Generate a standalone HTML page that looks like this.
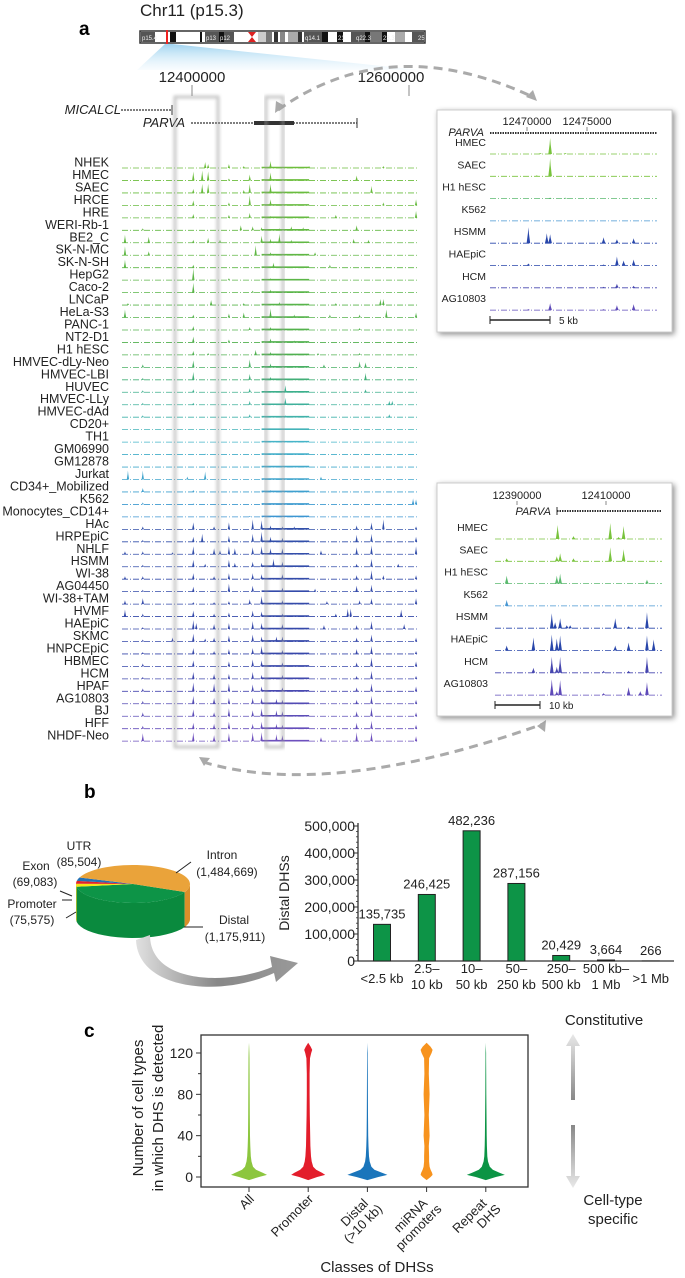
<!DOCTYPE html>
<html><head><meta charset="utf-8"><style>
html,body{margin:0;padding:0;background:#fff;}
svg{display:block;font-family:"Liberation Sans",Arial,sans-serif;}
</style></head><body>
<svg id="fig" width="685" height="1278" viewBox="0 0 685 1278" xmlns="http://www.w3.org/2000/svg">
<defs>
<filter id="sh" x="-10%" y="-10%" width="130%" height="130%"><feGaussianBlur in="SourceAlpha" stdDeviation="3"/><feOffset dx="2" dy="2"/><feComponentTransfer><feFuncA type="linear" slope="0.45"/></feComponentTransfer><feMerge><feMergeNode/><feMergeNode in="SourceGraphic"/></feMerge></filter>
<filter id="bl"><feGaussianBlur stdDeviation="1.5"/></filter>
<linearGradient id="wedge" x1="0" y1="0" x2="0" y2="1"><stop offset="0" stop-color="#9fd3f0"/><stop offset="1" stop-color="#e8f5fc" stop-opacity="0.3"/></linearGradient>
<linearGradient id="arrowg" x1="0" y1="0" x2="1" y2="0"><stop offset="0" stop-color="#e0e0e0"/><stop offset="0.5" stop-color="#888"/><stop offset="1" stop-color="#999"/></linearGradient>
<linearGradient id="vg1" x1="0" y1="0" x2="0" y2="1"><stop offset="0" stop-color="#e8e8e8"/><stop offset="1" stop-color="#888"/></linearGradient>
<linearGradient id="vg2" x1="0" y1="0" x2="0" y2="1"><stop offset="0" stop-color="#888"/><stop offset="1" stop-color="#e8e8e8"/></linearGradient>
</defs>

<text x="79" y="35" font-size="19" font-weight="bold">a</text>
<text x="140" y="16" font-size="17" fill="#222">Chr11 (p15.3)</text>
<g id="ideogram"></g>
<polygon points="165,44 172,44 420,70 137,70" fill="url(#wedge)"/>
<text x="192" y="82" font-size="15" text-anchor="middle" fill="#222">12400000</text>
<line x1="192" y1="85" x2="192" y2="96" stroke="#888"/>
<text x="391" y="82" font-size="15" text-anchor="middle" fill="#222">12600000</text>
<line x1="409" y1="85" x2="409" y2="96" stroke="#888"/>
<path d="M278,110 Q390,30 533,97" fill="none" stroke="#aaa" stroke-width="3" stroke-dasharray="9,6"/>
<polygon points="275,113 276,101 285,106" fill="#aaa"/>
<polygon points="537,101 526,97 533,90" fill="#aaa"/>
<path d="M203,762 Q330,800 543,724" fill="none" stroke="#aaa" stroke-width="3" stroke-dasharray="9,6"/>
<polygon points="199,757 210,758 204,766" fill="#aaa"/>
<polygon points="546,720 545,732 537,726" fill="#aaa"/>

<g id="genes">
<text x="121" y="114" font-size="13" font-style="italic" text-anchor="end" fill="#222">MICALCL</text>
<line x1="121" y1="110" x2="172" y2="110" stroke="#333" stroke-width="1.2" stroke-dasharray="2,1"/>
<line x1="172" y1="105" x2="172" y2="115" stroke="#333"/>
<text x="185" y="127" font-size="13" font-style="italic" text-anchor="end" fill="#222">PARVA</text>
<line x1="191" y1="123" x2="357" y2="123" stroke="#333" stroke-width="1.2" stroke-dasharray="2,1"/>
<rect x="254" y="121" width="40" height="4" fill="#333"/>
<line x1="357" y1="118" x2="357" y2="128" stroke="#333"/>
</g>

<g id="tracks"></g>
<g>
<rect x="175" y="97" width="43" height="650" fill="none" stroke="#999" stroke-width="3" opacity="0.55" filter="url(#bl)"/>
<rect x="266" y="97" width="17" height="650" fill="none" stroke="#999" stroke-width="3" opacity="0.55" filter="url(#bl)"/>
</g>

<g id="inset1">
<rect x="437" y="110" width="235" height="222" fill="#fff" stroke="#ccc" filter="url(#sh)"/>
<text x="527" y="125" font-size="11" text-anchor="middle" fill="#222">12470000</text>
<text x="587" y="125" font-size="11" text-anchor="middle" fill="#222">12475000</text>
<line x1="527" y1="127" x2="527" y2="131" stroke="#888"/>
<line x1="587" y1="127" x2="587" y2="131" stroke="#888"/>
<text x="484" y="136" font-size="11" font-style="italic" text-anchor="end" fill="#222">PARVA</text>
<line x1="490" y1="133" x2="657" y2="133" stroke="#333" stroke-width="2" stroke-dasharray="1.5,1"/>
<line x1="490" y1="320" x2="550" y2="320" stroke="#222" stroke-width="1.5"/>
<line x1="490" y1="316" x2="490" y2="324" stroke="#222"/>
<line x1="550" y1="316" x2="550" y2="324" stroke="#222"/>
<text x="559" y="324" font-size="10" fill="#222">5 kb</text>
</g>
<g id="inset2">
<rect x="437" y="483" width="235" height="233" fill="#fff" stroke="#ccc" filter="url(#sh)"/>
<text x="517" y="499" font-size="11" text-anchor="middle" fill="#222">12390000</text>
<text x="606" y="499" font-size="11" text-anchor="middle" fill="#222">12410000</text>
<line x1="517" y1="501" x2="517" y2="505" stroke="#888"/>
<line x1="606" y1="501" x2="606" y2="505" stroke="#888"/>
<text x="551" y="515" font-size="11" font-style="italic" text-anchor="end" fill="#222">PARVA</text>
<line x1="557" y1="511" x2="662" y2="511" stroke="#333" stroke-width="2" stroke-dasharray="1.5,1"/>
<line x1="557" y1="507" x2="557" y2="515" stroke="#333"/>
<line x1="495" y1="705" x2="540" y2="705" stroke="#222" stroke-width="1.5"/>
<line x1="495" y1="701" x2="495" y2="709" stroke="#222"/>
<line x1="540" y1="701" x2="540" y2="709" stroke="#222"/>
<text x="549" y="709" font-size="10" fill="#222">10 kb</text>
</g>

<text x="84" y="798" font-size="19" font-weight="bold">b</text>
<g id="pie"></g>
<path d="M150,935 C150,985 230,985 272,967 L270,956 L298,963 L276,982 L274,973 C220,998 138,990 136,940 Z" fill="url(#arrowg)"/>
<g id="bars"></g>

<text x="84" y="1037" font-size="19" font-weight="bold">c</text>
<g id="violin"></g>
<text x="604" y="1025" font-size="15" text-anchor="middle" fill="#222">Constitutive</text>
<polygon points="573,1034 566,1046 571,1046 571,1100 575,1100 575,1046 580,1046" fill="url(#vg1)"/>
<polygon points="573,1188 566,1176 571,1176 571,1125 575,1125 575,1176 580,1176" fill="url(#vg2)"/>
<text x="613" y="1205" font-size="15" text-anchor="middle" fill="#222">Cell-type</text>
<text x="613" y="1224" font-size="15" text-anchor="middle" fill="#222">specific</text>
</svg>
<script>
var NS="http://www.w3.org/2000/svg";
function mk(tag,attrs,parent){var e=document.createElementNS(NS,tag);for(var k in attrs)e.setAttribute(k,attrs[k]);parent.appendChild(e);return e;}

var trackNames=["NHEK","HMEC","SAEC","HRCE","HRE","WERI-Rb-1","BE2_C","SK-N-MC","SK-N-SH","HepG2","Caco-2","LNCaP","HeLa-S3","PANC-1","NT2-D1","H1 hESC","HMVEC-dLy-Neo","HMVEC-LBI","HUVEC","HMVEC-LLy","HMVEC-dAd","CD20+","TH1","GM06990","GM12878","Jurkat","CD34+_Mobilized","K562","Monocytes_CD14+","HAc","HRPEpiC","NHLF","HSMM","WI-38","AG04450","WI-38+TAM","HVMF","HAEpiC","SKMC","HNPCEpiC","HBMEC","HCM","HPAF","AG10803","BJ","HFF","NHDF-Neo"];
var trackPeaks=["28,6;29,4;36,4;50,7;41,2;63,2;88,2","24,9;27,10;29,9;43,6;50,8;79,5;36,2","24,4;27,9;29,9;43,9;50,9;84,7;41,3","24,5;43,10;50,6;36,3;88,3;99,6","24,4;36,3;43,5;50,2;72,3;99,7","7,2;40,5;44,4;47,3;53,2;57,4;61,3;79,5","1,8;9,6;24,3;29,5;33,3;47,7;50,4;53,9;57,3;78,4;83,3","1,9;9,4;45,10;50,3;65,3","1,8;24,3;51,5;70,3","24,12;36,2;50,2","24,10;44,2;50,3","2,2;30,5;41,2;53,3;72,2;87,6;88,6","1,8;24,3;36,4;41,5;50,9;58,3;70,3;80,3;89,8;99,5","24,4;43,3;50,3;80,2","24,6;36,3;50,4;58,2","24,4;29,2;45,5;50,3;66,2;80,2","7,3;24,7;43,8;50,4;68,3;80,6;82,5","7,2;24,8;43,6;50,3;82,7","7,2;24,3;43,4;55,7;82,3","7,2;24,2;43,4;55,7;90,4;91,4","7,2;43,3;55,2;90,3","43,1;50,1","50,1","28,1","50,1","2,9;7,9;22,3;28,8;50,1;67,3","7,4;24,2;50,2","7,2;24,1;98,6;99,5","43,1;50,1","7,3;24,7;31,3;36,7;44,10;47,9;50,4;54,3;58,3;79,4;84,7;88,10;99,3","7,2;24,5;27,8;36,6;44,8;47,10;50,5;54,4;79,7;84,8;99,5","1,3;7,3;17,2;24,8;31,6;33,4;36,8;38,6;44,7;47,8;50,6;54,6;67,4;79,7;84,9;99,8","7,2;24,7;28,3;36,7;38,4;44,5;47,4;51,8;54,5;79,3;84,8;93,3","1,3;7,3;24,6;31,3;36,6;44,6;47,5;54,5;79,4;84,9;88,4;99,4","7,2;24,5;36,8;44,6;54,4;65,3;79,6;84,7;99,3","1,4;7,6;24,2;31,2;36,3;43,5;47,8;54,4;69,3;80,4;84,6;99,6","1,7;7,3;24,6;31,3;36,4;44,6;47,5;54,3;72,3;76,8;77,8;94,7","7,2;24,9;25,6;31,5;36,6;44,8;47,6;54,5;68,4;79,4;84,8;95,5","7,2;17,4;24,8;28,3;31,4;36,6;44,7;47,5;52,5;54,5;79,4;84,7;99,4","7,2;24,6;31,3;36,5;44,6;47,8;54,4;79,5;84,8;99,3","7,3;24,6;36,5;44,7;47,6;54,4;79,4;84,9;99,5","7,2;24,7;31,5;36,5;44,7;47,4;54,4;79,3;84,8;99,3","7,3;24,9;31,8;36,8;44,7;47,5;54,4;79,4;84,8;99,5","7,3;24,8;31,6;36,6;44,6;47,6;52,5;54,4;79,4;84,8;99,4","7,4;24,7;31,4;36,8;44,6;47,8;52,6;54,5;79,5;84,9;99,4","7,3;24,6;31,5;36,7;44,5;47,7;52,5;54,4;79,6;84,8;99,4","7,8;24,9;31,6;36,8;44,9;47,9;52,7;54,6;67,4;79,9;84,9;99,5"];

var inset1Names=["HMEC","SAEC","H1 hESC","K562","HSMM","HAEpiC","HCM","AG10803"];
var inset1Peaks=["36,16;30,1;45,1","36,18;28,1","36,1;45,1","","23,16;34,10;36,9;68,6;76,4;86,5","23,2;68,1;76,9;80,5;86,6","76,4;86,2;68,1","23,1;36,7;76,5;86,6;68,1"];
var inset2Names=["HMEC","SAEC","H1 hESC","K562","HSMM","HAEpiC","HCM","AG10803"];
var inset2Peaks=["37.5,14;47,3;69,16;74,2;77,13","7,3;37,5;39,8;47,3;69,14;77,12","7,8;37,8;39,10;91,4","7,6","34,15;36,6;39,10;43,3;45,3;72,10;80,2;91,16","7,5;23,13;34,16;37,12;39,15;72,5;80,8;91,15;95,11","23,5;34,16;37,6;39,16;65,2;80,2;91,16","34,16;37,4;39,15;65,2;80,8;87,4;91,13"];

var barCategories=[["<2.5 kb"],["2.5–","10 kb"],["10–","50 kb"],["50–","250 kb"],["250–","500 kb"],["500 kb–","1 Mb"],[">1 Mb"]];
var barValues=[135735,246425,482236,287156,20429,3664,266];
var barLabels=["135,735","246,425","482,236","287,156","20,429","3,664","266"];
var barTicks=[0,100000,200000,300000,400000,500000];
var barTickLabels=["0","100,000","200,000","300,000","400,000","500,000"];

var pieNames=["Distal","Promoter","Exon","UTR","Intron"];
var pieValues=[1175911,75575,69083,85504,1484669];

var violinClasses=["All","Promoter","Distal|(>10 kb)","miRNA|promoters","Repeat|DHS"];
var violinLevels=[-3,0,2,4,7,10,15,20,30,40,60,80,100,115,120,123,126,130];
var violinAll=[0,10,18,14,7,4,2.5,1.8,1.3,1,0.8,0.7,0.6,0.5,0.4,0.3,0.2,0];
var violinPromoter=[0,9,17,14,8,5,3.5,2.8,2.2,2,1.6,1.4,1.4,1.8,3,4,2.5,0];
var violinDistal=[0,11,20,15,7,4,2.3,1.6,1.1,0.8,0.6,0.5,0.4,0.3,0.3,0.2,0.1,0];
var violinMirna=[0,4,6,5.5,4,3,2.5,2.5,2.2,3,2.2,3,2.2,2.5,5,6,4,0];
var violinRepeat=[0,10,19,14,7,4,2.2,1.5,1.1,0.9,0.7,0.5,0.4,0.3,0.3,0.2,0.1,0];
var violinTicks=[0,40,80,120];

(function(){
 var g=document.getElementById("ideogram");
 var r=mk("rect",{x:140,y:31,width:285,height:12,fill:"#fff",stroke:"#333","stroke-width":1.5},g);
 
 
 var bands=[[141,14,"#555"],[170,6,"#111"],[188,10,"#fff"],[200,2,"#111"],[205,14,"#555"],[219,5,"#111"],[224,10,"#555"],[234,12,"#fff"],[258,8,"#ccc"],[266,6,"#777"],[274,4,"#333"],[280,5,"#888"],[288,10,"#aaa"],[298,4,"#333"],[304,18,"#555"],[322,6,"#111"],[328,9,"#fff"],[337,6,"#111"],[345,4,"#fff"],[351,14,"#555"],[365,5,"#111"],[370,12,"#777"],[382,5,"#111"],[395,10,"#aaa"],[412,12,"#555"]];
 bands.forEach(function(b){var e=mk("rect",{x:b[0],y:32,width:b[1],height:10,fill:b[2]},g);
  
  });
 mk("polygon",{points:"248,32 256,32 252,37 256,42 248,42 252,37",fill:"#d22"},g);
 mk("rect",{x:166,y:30,width:2,height:14,fill:"#e22"},g);
 var labs=[[142,"p15.4"],[206,"p13"],[220,"p12"],[305,"q14.1"],[338,"21"],[356,"q22.3"],[383,"23.3"],[418,"25"]];
 labs.forEach(function(l){var t=mk("text",{x:l[0],y:40,"font-size":6,fill:"#eee"},g);t.textContent=l[1];
  
  });
})();

function lerp(a,b,t){return [0,1,2].map(function(i){return Math.round(a[i]+(b[i]-a[i])*t);});}
function trackColor(i){
 var stops=[[0,[110,190,60]],[15,[80,176,80]],[18,[60,175,140]],[22,[70,180,200]],[28,[60,150,210]],[29,[50,80,170]],[40,[55,70,170]],[46,[110,80,190]]];
 for(var k=0;k<stops.length-1;k++){if(i<=stops[k+1][0]){var t=(i-stops[k][0])/(stops[k+1][0]-stops[k][0]);var c=lerp(stops[k][1],stops[k+1][1],t);return "rgb("+c.join(",")+")";}}
 return "rgb(110,80,190)";
}
function parsePeaks(s){return s?s.split(";").map(function(p){var a=p.split(",");return [parseFloat(a[0]),parseFloat(a[1])];}):[];}

function drawTrack(g,x0,x1,base,peaks,col,hs,w,name,dense){
 var bl=mk("line",{x1:x0,y1:base,x2:x1,y2:base,stroke:col,"stroke-width":0.8,"stroke-dasharray":"6,2,1,2"},g);
 
 
 if(dense){var d=mk("line",{x1:dense[0],y1:base-0.5,x2:dense[1],y2:base-0.5,stroke:col,"stroke-width":1.6},g);
  
  }
 peaks.forEach(function(p){
  var px=x0+(x1-x0)*p[0]/100, h=p[1]*hs;
  var pk=mk("polygon",{points:(px-w)+","+base+" "+(px-w*0.3)+","+(base-h*0.6)+" "+px+","+(base-h)+" "+(px+w*0.3)+","+(base-h*0.6)+" "+(px+w)+","+base,fill:col},g);
  
  
 });
}

(function(){
 var g=document.getElementById("tracks");
 var X0=122,X1=419;
 trackNames.forEach(function(n,i){
  var cy=162+i*12.46, col=trackColor(i);
  var t=mk("text",{x:109,y:cy+4.5,"font-size":12.5,"text-anchor":"end",fill:"#222"},g);t.textContent=n;
  
  
  drawTrack(g,X0,X1,cy+6,parsePeaks(trackPeaks[i]),col,1,1.2,'track',[X0+(X1-X0)*0.47,X0+(X1-X0)*0.63]);
 });
})();

function drawInset(names,peaks,labX,x0,x1,y0,groupId){
 var g=document.getElementById(groupId);
 names.forEach(function(n,i){
  var ly=y0+i*22.3;
  var col=i<2?"rgb(120,195,60)":i==2?"rgb(90,185,110)":i==3?"rgb(70,150,210)":i<6?"rgb(40,70,170)":i==6?"rgb(70,70,175)":"rgb(95,75,185)";
  var t=mk("text",{x:labX,y:ly+4,"font-size":10.5,"text-anchor":"end",fill:"#222"},g);t.textContent=n;
  
  
  drawTrack(g,x0,x1,ly+12,parsePeaks(peaks[i]),col,1,1.8,'inset-track',null);
 });
}
drawInset(inset1Names,inset1Peaks,486,490,657,142,"inset1");
drawInset(inset2Names,inset2Peaks,488,495,662,527,"inset2");

(function(){
 var g=document.getElementById("pie");
 var cx=133,cy=884,rx=57,ry=19,dep=35;
 var top=["#0d9447","#f5e616","#e2232a","#2471b5","#eaa33a"];
 var side=["#0a8a3e","#d8c80f","#c01c22","#1d5d97","#d98f2a"];
 var tot=pieValues.reduce(function(a,b){return a+b;},0);
 function pt(a,dy){return [cx+rx*Math.cos(a*Math.PI/180),cy+dy+ry*Math.sin(a*Math.PI/180)];}
 var a=25, ranges=[];
 pieValues.forEach(function(v,i){var s=a,e=a+v/tot*360;ranges.push([s,e]);a=e;});
 ranges.forEach(function(r,i){
  [[r[0],r[1]],[r[0]-360,r[1]-360]].forEach(function(rr){
   var s=Math.max(rr[0],0),e=Math.min(rr[1],180);if(e<=s)return;
   var d="",n=20;
   for(var k=0;k<=n;k++){var p=pt(s+(e-s)*k/n,0);d+=(k?"L":"M")+p[0].toFixed(1)+","+p[1].toFixed(1);}
   for(var k=n;k>=0;k--){var p=pt(s+(e-s)*k/n,dep);d+="L"+p[0].toFixed(1)+","+p[1].toFixed(1);}
   var sd=mk("path",{d:d+"Z",fill:side[i]},g);
   
   
  });
 });
 ranges.forEach(function(r,i){
  var d="M"+cx+","+cy,n=40;
  for(var k=0;k<=n;k++){var p=pt(r[0]+(r[1]-r[0])*k/n,0);d+="L"+p[0].toFixed(1)+","+p[1].toFixed(1);}
  var sl=mk("path",{d:d+"Z",fill:top[i]},g);
  
  
 });
 var labels=[[79,850,"UTR","middle"],[79,866,"(85,504)","middle"],[36,870,"Exon","middle"],[35,886,"(69,083)","middle"],[32,908,"Promoter","middle"],[32,924,"(75,575)","middle"],[222,859,"Intron","middle"],[227,876,"(1,484,669)","middle"],[234,924,"Distal","middle"],[235,941,"(1,175,911)","middle"]];
 labels.forEach(function(l){var t=mk("text",{x:l[0],y:l[1],"font-size":12,"text-anchor":l[3],fill:"#222"},g);t.textContent=l[2];
  
  });
 [[176,873,191,862],[184,927,203,927],[72,896,60,891],[72,900,62,900],[76,912,66,918]].forEach(function(L){
  var ln=mk("line",{x1:L[0],y1:L[1],x2:L[2],y2:L[3],stroke:"#222","stroke-width":1},g);
  
  });
})();

(function(){
 var g=document.getElementById("bars");
 var ax=358,y0=961,pxPer=135/500000,x0=382,step=44.8,bw=17;
 function Y(v){return y0-v*pxPer;}
 function X(i){return x0+i*step;}
 var yl=mk("line",{x1:ax,y1:Y(500000)-3,x2:ax,y2:y0,stroke:"#333","stroke-width":1.3},g);
 
 
 var xl=mk("line",{x1:ax,y1:y0,x2:674,y2:y0,stroke:"#333","stroke-width":1.3},g);
 
 
 for(var v=0;v<=500000;v+=20000){var m=mk("line",{x1:ax-2,y1:Y(v),x2:ax,y2:Y(v),stroke:"#333","stroke-width":0.8},g);
  
  }
 barTicks.forEach(function(v,i){
  var tk=mk("line",{x1:ax-5,y1:Y(v),x2:ax,y2:Y(v),stroke:"#333"},g);
  
  
  var t=mk("text",{x:ax-3,y:Y(v)+5,"font-size":14,"text-anchor":"end",fill:"#222"},g);t.textContent=barTickLabels[i];
  
  
 });
 var yt=mk("text",{x:0,y:0,"font-size":14,"text-anchor":"middle",fill:"#222",transform:"translate(289,893) rotate(-90)"},g);yt.textContent="Distal DHSs";
 
 
 barValues.forEach(function(v,i){
  var b=mk("rect",{x:X(i)-bw/2,y:Y(v),width:bw,height:y0-Y(v),fill:"#0d9447",stroke:"#222","stroke-width":1},g);
  
  
  var t=mk("text",{x:X(i),y:Y(v)-6,"font-size":13,"text-anchor":"middle",fill:"#222"},g);t.textContent=barLabels[i];
  
  
  barCategories[i].forEach(function(line,j){
   var c=mk("text",{x:X(i),y:(barCategories[i].length==1?983:973+j*16),"font-size":13,"text-anchor":"middle",fill:"#222"},g);c.textContent=line;
   
   
  });
 });
})();

(function(){
 var g=document.getElementById("violin");
 var bx0=201,bx1=528,by0=1035,by1=1187,y0=1177,pxPer=(1177-1053)/120,x0=249,step=59.2;
 function Y(v){return y0-v*pxPer;}
 function X(i){return x0+i*step;}
 var fr=mk("rect",{x:bx0,y:by0,width:bx1-bx0,height:by1-by0,fill:"none",stroke:"#333","stroke-width":1.3},g);
 
 
 for(var v=0;v<=120;v+=20){var m=mk("line",{x1:bx0-(v%40==0?5:3),y1:Y(v),x2:bx0,y2:Y(v),stroke:"#333"},g);
  
  }
 violinTicks.forEach(function(v){var t=mk("text",{x:193,y:Y(v)+5,"font-size":14,"text-anchor":"end",fill:"#222"},g);t.textContent=String(v);
  
  });
 var t1=mk("text",{x:0,y:0,"font-size":15,"text-anchor":"middle",fill:"#222",transform:"translate(143,1108) rotate(-90)"},g);t1.textContent="Number of cell types";
 
 
 var t2=mk("text",{x:0,y:0,"font-size":15,"text-anchor":"middle",fill:"#222",transform:"translate(163,1108) rotate(-90)"},g);t2.textContent="in which DHS is detected";
 
 
 var widths=[violinAll,violinPromoter,violinDistal,violinMirna,violinRepeat];
 var cols=["#8cc63e","#e31d2b","#1a75bb","#f7931e","#0b9444"];
 widths.forEach(function(w,i){
  var cx=X(i),d="";
  violinLevels.forEach(function(l,k){d+=(k?"L":"M")+(cx+w[k]).toFixed(1)+","+Y(l).toFixed(1);});
  for(var k=violinLevels.length-1;k>=0;k--){d+="L"+(cx-w[k]).toFixed(1)+","+Y(violinLevels[k]).toFixed(1);}
  var p=mk("path",{d:d+"Z",fill:cols[i]},g);
  
  
  var tk=mk("line",{x1:cx,y1:by1,x2:cx,y2:by1+5,stroke:"#333"},g);
  
  
  var lines=violinClasses[i].split("|");
  var lg=mk("g",{transform:"translate("+(cx+3)+","+(by1+10)+") rotate(-45)"},g);
  
  
  lines.forEach(function(s,j){
   var t=mk("text",{x:(lines.length>1&&j==0)?-6:0,y:4+j*14,"font-size":13,"text-anchor":"end",fill:"#222"},lg);t.textContent=s;
   
   
  });
 });
 var xt=mk("text",{x:377,y:1272,"font-size":15,"text-anchor":"middle",fill:"#222"},g);xt.textContent="Classes of DHSs";
 
 
})();
</script>
</body></html>
